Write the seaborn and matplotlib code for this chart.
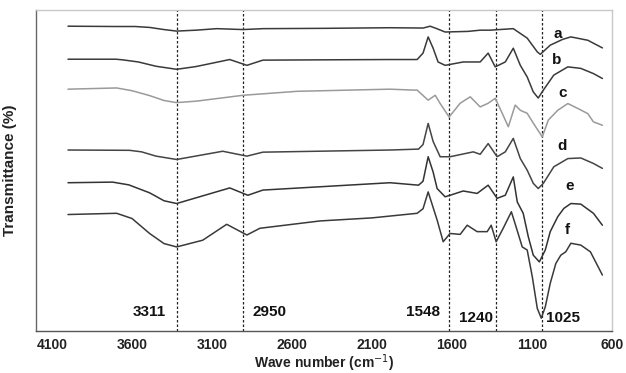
import numpy as np
import pandas as pd
import matplotlib
matplotlib.use("Agg")
import matplotlib.pyplot as plt
import seaborn as sns

# ---- data (wavenumber in cm^-1, transmittance in offset %) ----
wn_a = [4000, 3700, 3580, 3490, 3400, 3321, 3200, 3070, 2907, 2780, 2400, 1990, 1780, 1737, 1700, 1643, 1500, 1424, 1361, 1217, 1130, 1067, 1048, 986, 908, 857, 751, 660]
t_a  = [99.7, 99.6, 99.6, 99.3, 98.6, 98.1, 98.4, 98.9, 98.6, 98.9, 99.0, 99.2, 99.1, 99.7, 99.0, 97.8, 98.0, 98.4, 98.4, 98.9, 95.8, 91.3, 90.5, 93.5, 95.4, 96.2, 95.1, 92.6]

wn_b = [4000, 3700, 3659, 3560, 3450, 3321, 3200, 2989, 2882, 2782, 2400, 1990, 1818, 1781, 1749, 1718, 1687, 1643, 1530, 1424, 1374, 1330, 1267, 1217, 1173, 1130, 1092, 1061, 1029, 964, 876, 795, 716, 660]
t_b  = [88.9, 88.9, 88.7, 88.0, 86.6, 85.6, 86.5, 88.8, 86.9, 88.6, 88.7, 88.8, 88.8, 90.9, 96.2, 92.5, 88.0, 86.9, 88.0, 88.0, 90.9, 86.4, 88.0, 92.5, 86.9, 83.1, 78.2, 76.2, 78.8, 83.7, 86.4, 85.9, 84.2, 82.6]

wn_c = [4000, 3696, 3600, 3490, 3400, 3321, 3195, 2907, 2569, 1987, 1843, 1818, 1749, 1705, 1674, 1618, 1549, 1486, 1424, 1374, 1330, 1286, 1248, 1205, 1173, 1130, 1092, 1036, 998, 939, 876, 814, 751, 716, 660]
t_c  = [79.1, 79.5, 78.6, 77.0, 75.4, 74.7, 75.2, 77.1, 78.4, 79.1, 78.8, 78.8, 75.5, 77.1, 74.4, 70.0, 74.5, 76.6, 73.3, 74.5, 76.1, 71.2, 66.8, 73.9, 72.2, 71.2, 68.0, 63.5, 69.0, 72.2, 74.4, 72.8, 71.1, 68.4, 67.3]

wn_d = [4000, 3615, 3540, 3450, 3321, 3033, 2882, 2782, 1987, 1809, 1781, 1749, 1718, 1674, 1612, 1467, 1424, 1374, 1318, 1267, 1217, 1173, 1130, 1092, 1061, 1029, 964, 876, 795, 716, 660]
t_d  = [59.2, 59.1, 58.6, 57.2, 56.1, 58.8, 57.2, 58.5, 59.2, 59.5, 61.0, 67.9, 62.0, 57.0, 57.0, 58.6, 57.8, 61.3, 57.0, 58.6, 63.0, 56.4, 52.6, 48.3, 46.6, 48.3, 53.7, 56.4, 56.6, 54.8, 53.2]

wn_e = [4000, 3721, 3620, 3490, 3400, 3321, 2989, 2876, 2782, 1987, 1809, 1781, 1749, 1718, 1693, 1643, 1612, 1530, 1443, 1374, 1318, 1267, 1217, 1192, 1155, 1123, 1092, 1054, 1017, 986, 939, 901, 857, 795, 716, 660]
t_e  = [48.5, 48.7, 47.8, 45.2, 42.6, 41.7, 46.8, 44.4, 46.1, 48.5, 47.7, 49.0, 57.0, 52.0, 46.6, 43.9, 44.4, 45.8, 45.0, 47.7, 43.4, 44.4, 50.4, 42.2, 38.5, 30.8, 24.8, 22.6, 26.5, 32.5, 37.4, 40.1, 41.7, 41.5, 38.5, 34.6]

wn_f = [4000, 3696, 3600, 3490, 3400, 3321, 3158, 3008, 2882, 2801, 2425, 2100, 1818, 1781, 1749, 1693, 1655, 1612, 1549, 1505, 1443, 1380, 1355, 1324, 1280, 1229, 1205, 1161, 1130, 1098, 1067, 1042, 1017, 986, 951, 920, 889, 857, 795, 735, 660]
t_f  = [38.1, 38.5, 36.8, 31.9, 28.6, 27.5, 29.7, 34.9, 31.4, 33.6, 36.0, 37.0, 38.5, 40.0, 45.5, 36.3, 29.2, 31.9, 31.6, 34.6, 32.5, 32.5, 34.6, 29.2, 33.6, 39.0, 35.0, 27.5, 26.5, 17.7, 7.4, 4.2, 7.9, 15.6, 22.1, 24.8, 25.9, 28.7, 28.1, 25.9, 18.3]

samples = ["a", "b", "c", "d", "e", "f"]
colors = {"a": "#3a3a3a", "b": "#3a3a3a", "c": "#9a9a9a", "d": "#444444", "e": "#333333", "f": "#3a3a3a"}

# marker lines and labels
band_pos = [3321, 2907, 1618, 1324, 1036]
band_text = ["3311", "2950", "1548", "1240", "1025"]
band_text_x = [3490, 2738, 1781, 1449, 908]
band_text_y = [6.2, 6.2, 6.2, 4.2, 4.2]

label_x = [942, 948, 910, 910, 867, 879]
label_y = [97.1, 88.6, 77.8, 60.5, 47.4, 33.0]

xticks = [4100, 3600, 3100, 2600, 2100, 1600, 1100, 600]
yticks = [20, 40, 60, 80, 100]

frames = []
for s, w, t in zip(samples, [wn_a, wn_b, wn_c, wn_d, wn_e, wn_f], [t_a, t_b, t_c, t_d, t_e, t_f]):
    frames.append(pd.DataFrame({"wn": w, "T": t, "sample": s}))
df = pd.concat(frames, ignore_index=True)

sns.set_theme(style="white")
plt.rcParams["font.family"] = ["Liberation Sans", "DejaVu Sans"]

fig = plt.figure(figsize=(6.26, 3.73), dpi=100)
ax = fig.add_axes([36 / 626, 42 / 373, 576 / 626, 321 / 373])

sns.lineplot(data=df, x="wn", y="T", hue="sample", palette=colors, legend=False,
             sort=False, estimator=None, linewidth=1.1, ax=ax)

for xp in band_pos:
    ax.axvline(xp, color="#222222", linestyle=(0, (2, 1.6)), linewidth=0.9, zorder=1)
for tx, ty, tt in zip(band_text_x, band_text_y, band_text):
    ax.text(tx, ty, tt, ha="center", va="center", fontsize=11, fontweight="bold", color="#111111")
for lx, ly, s in zip(label_x, label_y, samples):
    ax.text(lx, ly, s, ha="center", va="center", fontsize=11, fontweight="bold", color="#111111")

ax.set_xlim(4200, 600)
ax.set_ylim(0, 105)
ax.set_xticks(xticks)
ax.set_xticklabels([str(v) for v in xticks], fontsize=10, fontweight="bold", color="#222222")
ax.set_yticks(yticks)
ax.set_yticklabels([])
ax.tick_params(axis="both", direction="in", length=4, width=0.8, color="#555555")
ax.tick_params(axis="x", pad=5)

ax.set_ylabel("Transmittance (%)", fontsize=11, fontweight="bold", color="#222222", labelpad=10)
ax.set_xlabel("Wave number (cm$^{-1}$)", fontsize=10, fontweight="bold", color="#222222", labelpad=0)

ax.spines["left"].set_color("#666666")
ax.spines["bottom"].set_color("#555555")
ax.spines["top"].set_color("#c8c8c8")
ax.spines["right"].set_color("#c8c8c8")
for sp in ax.spines.values():
    sp.set_linewidth(1.0)

fig.savefig("out.png", dpi=100)
